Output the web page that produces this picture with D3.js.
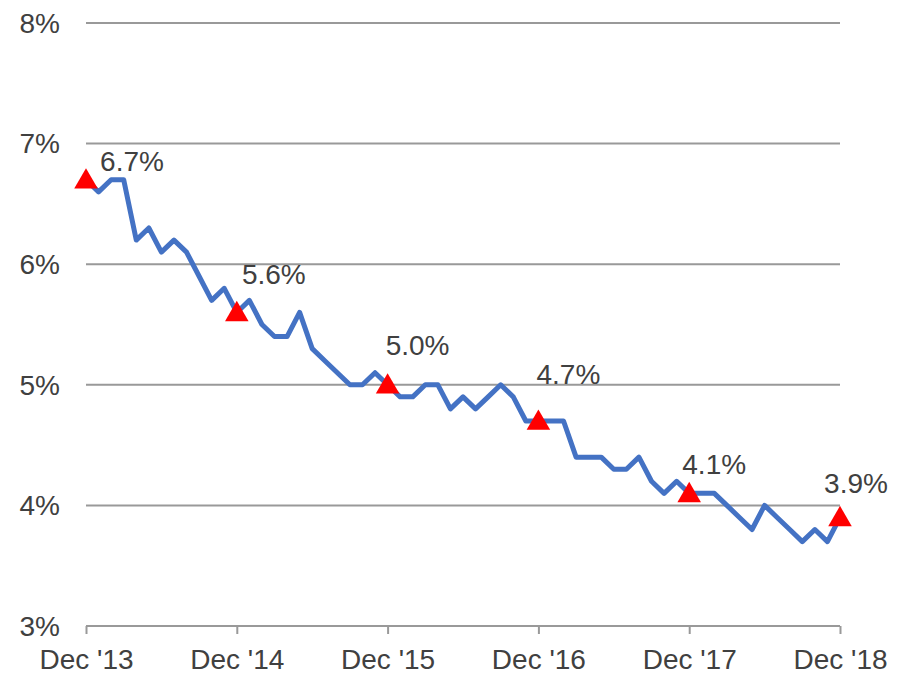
<!DOCTYPE html>
<html>
<head>
<meta charset="utf-8">
<script src="https://cdn.jsdelivr.net/npm/d3@7"></script>
<style>
  body { margin: 0; background: #fff; }
  text { font-family: "Liberation Sans", Arial, sans-serif; fill: #404040; }
</style>
</head>
<body>
<div class="chart"></div>
<script>
// monthly unemployment rate, Dec 2013 .. Dec 2018
const months = d3.range(61); // month index from Dec '13
const rates = [
  6.7,
  6.6, 6.7, 6.7, 6.2, 6.3, 6.1, 6.2, 6.1, 5.9, 5.7, 5.8, 5.6,
  5.7, 5.5, 5.4, 5.4, 5.6, 5.3, 5.2, 5.1, 5.0, 5.0, 5.1, 5.0,
  4.9, 4.9, 5.0, 5.0, 4.8, 4.9, 4.8, 4.9, 5.0, 4.9, 4.7, 4.7,
  4.7, 4.7, 4.4, 4.4, 4.4, 4.3, 4.3, 4.4, 4.2, 4.1, 4.2, 4.1,
  4.1, 4.1, 4.0, 3.9, 3.8, 4.0, 3.9, 3.8, 3.7, 3.8, 3.7, 3.9
];
const xTickLabels = ["Dec '13", "Dec '14", "Dec '15", "Dec '16", "Dec '17", "Dec '18"];
const yTicks = [3, 4, 5, 6, 7, 8];
const markerMonths = [0, 12, 24, 36, 48, 60];

// hand nudges for the data labels (dx, dy from marker)
const labelNudge = [[46, -9], [37, -28], [30, -30], [30, -37], [25, -19], [16, -24]];

const width = 909, height = 675;

const svg = d3.select('.chart').append('svg')
  .attr('width', width)
  .attr('height', height);

const x = d3.scaleLinear().domain([0, 60]).range([86, 840]);
const y = d3.scaleLinear().domain([3, 8]).range([626, 23]);

// gridlines
svg.append('g')
  .selectAll('line')
  .data(yTicks)
  .join('line')
  .attr('x1', x(0))
  .attr('x2', x(60))
  .attr('y1', d => y(d))
  .attr('y2', d => y(d))
  .attr('stroke', '#999')
  .attr('stroke-width', 2);

// y labels
svg.append('g')
  .selectAll('text')
  .data(yTicks)
  .join('text')
  .attr('x', 60)
  .attr('y', d => y(d))
  .attr('dy', '0.35em')
  .attr('text-anchor', 'end')
  .style('font-size', '28px')
  .text(d => d + '%');

// x axis ticks + labels
const xAxis = svg.append('g').attr('transform', `translate(0,${y(3)})`)
  .call(d3.axisBottom(x)
    .tickValues(markerMonths)
    .tickSize(8)
    .tickFormat((d, i) => xTickLabels[i]));
xAxis.select('.domain').remove();
xAxis.selectAll('.tick line').attr('stroke', '#999').attr('stroke-width', 2);
xAxis.selectAll('.tick text')
  .attr('y', 43)
  .attr('dy', 0)
  .style('font-size', '28px')
  .style('font-family', '"Liberation Sans", Arial, sans-serif')
  .attr('fill', '#404040');

// the line
const line = d3.line()
  .x((d, i) => x(months[i]))
  .y(d => y(d));

svg.append('path')
  .datum(rates)
  .attr('d', line)
  .attr('fill', 'none')
  .attr('stroke', '#4472C4')
  .attr('stroke-width', 5)
  .attr('stroke-linejoin', 'round');

// year-end markers
const tri = d3.symbol().type(d3.symbolTriangle).size(240);
svg.append('g')
  .selectAll('path')
  .data(markerMonths)
  .join('path')
  .attr('d', tri)
  .attr('transform', d => `translate(${x(d)},${y(rates[d]) + 2})`)
  .attr('fill', '#FF0000');

svg.append('g')
  .selectAll('text')
  .data(markerMonths)
  .join('text')
  .attr('x', (d, i) => x(d) + labelNudge[i][0])
  .attr('y', (d, i) => y(rates[d]) + labelNudge[i][1])
  .attr('text-anchor', 'middle')
  .style('font-size', '28px')
  .text(d => rates[d].toFixed(1) + '%');
</script>
</body>
</html>
